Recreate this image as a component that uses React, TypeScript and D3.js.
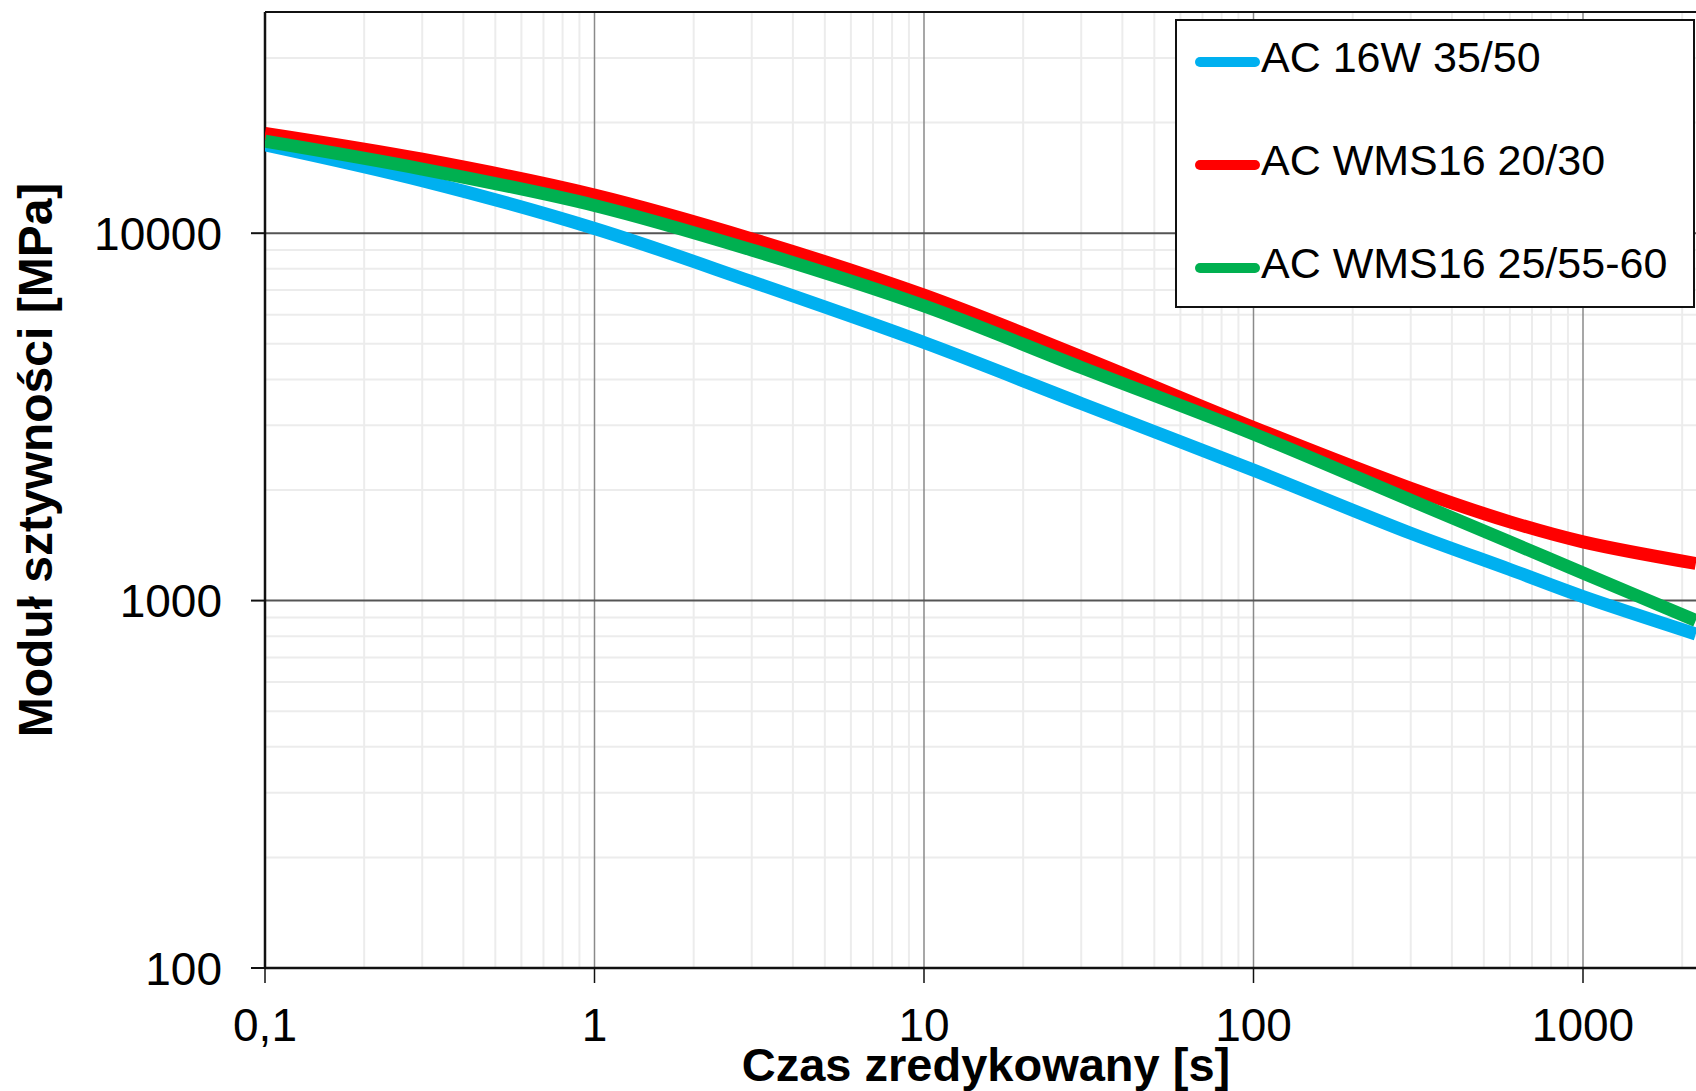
import React from "react";
import * as d3 from "d3";

// Reduced time [s]
const TIMES = [0.1, 0.3, 1, 3, 10, 30, 100, 300, 600, 1000, 2200];

// Stiffness modulus [MPa] for each mixture
const AC16W_35_50 = [17400, 13900, 10300, 7380, 5040, 3440, 2265, 1525, 1215, 1025, 811];
const ACWMS16_20_30 = [18700, 15900, 12700, 9650, 6780, 4610, 2960, 2021, 1638, 1445, 1262];
const ACWMS16_25_55_60 = [17800, 14950, 11900, 9000, 6340, 4310, 2840, 1875, 1443, 1189, 883];

const SERIES_NAMES = ["AC 16W 35/50", "AC WMS16 20/30", "AC WMS16 25/55-60"];
const SERIES_COLORS = ["#00b0f0", "#ff0000", "#00b050"];

const X_TICKS = [0.1, 1, 10, 100, 1000];
const X_TICK_LABELS = ["0,1", "1", "10", "100", "1000"];
const Y_TICKS = [100, 1000, 10000];
const Y_TICK_LABELS = ["100", "1000", "10000"];

const X_TITLE = "Czas zredykowany [s]";
const Y_TITLE = "Moduł sztywności [MPa]";

const W = 1696;
const H = 1091;
const FONT = "'Liberation Sans', Arial, sans-serif";

export default function App() {
  const left = 265;
  const top = 12;
  const bottom = 968;
  const decadeX = 329.5;

  // five decades from 0.1 to 10000; the right part runs past the drawing
  const x = d3.scaleLog().domain([0.1, 10000]).range([left, left + 5 * decadeX]);
  const y = d3.scaleLog().domain([100, 40000]).range([bottom, top]);

  const series = [AC16W_35_50, ACWMS16_20_30, ACWMS16_25_55_60];

  const line = d3
    .line<number>()
    .x((_, i) => x(TIMES[i]))
    .y((d) => y(d))
    .curve(d3.curveCatmullRom.alpha(0.5));

  // minor gridlines
  const minorX: number[] = [];
  for (let k = -1; k <= 3; k++) for (let m = 2; m <= 9; m++) minorX.push(m * Math.pow(10, k));
  const minorY: number[] = [];
  for (let k = 2; k <= 4; k++)
    for (let m = 2; m <= 9; m++) {
      const v = m * Math.pow(10, k);
      if (v < 40000) minorY.push(v);
    }

  const plotRight = W;

  return (
    <svg
      width={W}
      height={H}
      style={{ position: "absolute", left: 0, top: 0, display: "block", background: "#fff" }}
    >
      <defs>
        <clipPath id="plot-clip">
          <rect x={left} y={top} width={plotRight - left} height={bottom - top} />
        </clipPath>
      </defs>
      <rect x={0} y={0} width={W} height={H} fill="#fff" />

      {/* minor grid */}
      {minorX.map((v) => (
        <line key={"mx" + v} x1={x(v)} x2={x(v)} y1={top} y2={bottom} stroke="#ececec" strokeWidth={2} />
      ))}
      {minorY.map((v) => (
        <line key={"my" + v} x1={left} x2={plotRight} y1={y(v)} y2={y(v)} stroke="#ececec" strokeWidth={2} />
      ))}

      {/* major grid */}
      {X_TICKS.slice(1).map((v) => (
        <line key={"gx" + v} x1={x(v)} x2={x(v)} y1={top} y2={bottom} stroke="#8a8a8a" strokeWidth={1.5} />
      ))}
      {Y_TICKS.slice(1).map((v) => (
        <line key={"gy" + v} x1={left} x2={plotRight} y1={y(v)} y2={y(v)} stroke="#555" strokeWidth={2} />
      ))}

      {/* frame */}
      <line x1={left} x2={plotRight} y1={top} y2={top} stroke="#111" strokeWidth={2} />
      <line x1={left} x2={left} y1={top} y2={bottom} stroke="#111" strokeWidth={2.5} />
      <line x1={left} x2={plotRight} y1={bottom} y2={bottom} stroke="#111" strokeWidth={2.5} />

      {/* ticks */}
      {X_TICKS.map((v) => (
        <line key={"tx" + v} x1={x(v)} x2={x(v)} y1={bottom} y2={bottom + 15} stroke="#111" strokeWidth={1.5} />
      ))}
      {Y_TICKS.map((v) => (
        <line key={"ty" + v} x1={left - 14} x2={left} y1={y(v)} y2={y(v)} stroke="#111" strokeWidth={2} />
      ))}

      {/* series */}
      <g clipPath="url(#plot-clip)">
        {series.map((s, i) => (
          <path
            key={SERIES_NAMES[i]}
            d={line(s) || ""}
            fill="none"
            stroke={SERIES_COLORS[i]}
            strokeWidth={13}
            strokeLinejoin="round"
          />
        ))}
      </g>

      {/* tick labels */}
      {X_TICKS.map((v, i) => (
        <text
          key={"lx" + v}
          x={x(v)}
          y={1041}
          textAnchor="middle"
          fontFamily={FONT}
          fontSize={46}
          fill="#000"
        >
          {X_TICK_LABELS[i]}
        </text>
      ))}
      {Y_TICKS.map((v, i) => (
        <text
          key={"ly" + v}
          x={222}
          y={y(v) + 16.5}
          textAnchor="end"
          fontFamily={FONT}
          fontSize={46}
          fill="#000"
        >
          {Y_TICK_LABELS[i]}
        </text>
      ))}

      {/* axis titles */}
      <text x={986} y={1081} textAnchor="middle" fontFamily={FONT} fontSize={47} fontWeight="bold" fill="#000">
        {X_TITLE}
      </text>
      <text
        transform="translate(52,460) rotate(-90)"
        textAnchor="middle"
        fontFamily={FONT}
        fontSize={48}
        fontWeight="bold"
        fill="#000"
      >
        {Y_TITLE}
      </text>

      {/* legend */}
      <rect x={1176} y={20} width={518} height={287} fill="#fff" stroke="#111" strokeWidth={2} />
      {SERIES_NAMES.map((name, i) => {
        const ly = 62 + i * 103;
        return (
          <g key={"lg" + name}>
            <line
              x1={1200}
              x2={1255}
              y1={ly}
              y2={ly}
              stroke={SERIES_COLORS[i]}
              strokeWidth={10}
              strokeLinecap="round"
            />
            <text x={1261} y={ly + 10} fontFamily={FONT} fontSize={43} fill="#000">
              {name}
            </text>
          </g>
        );
      })}
    </svg>
  );
}
